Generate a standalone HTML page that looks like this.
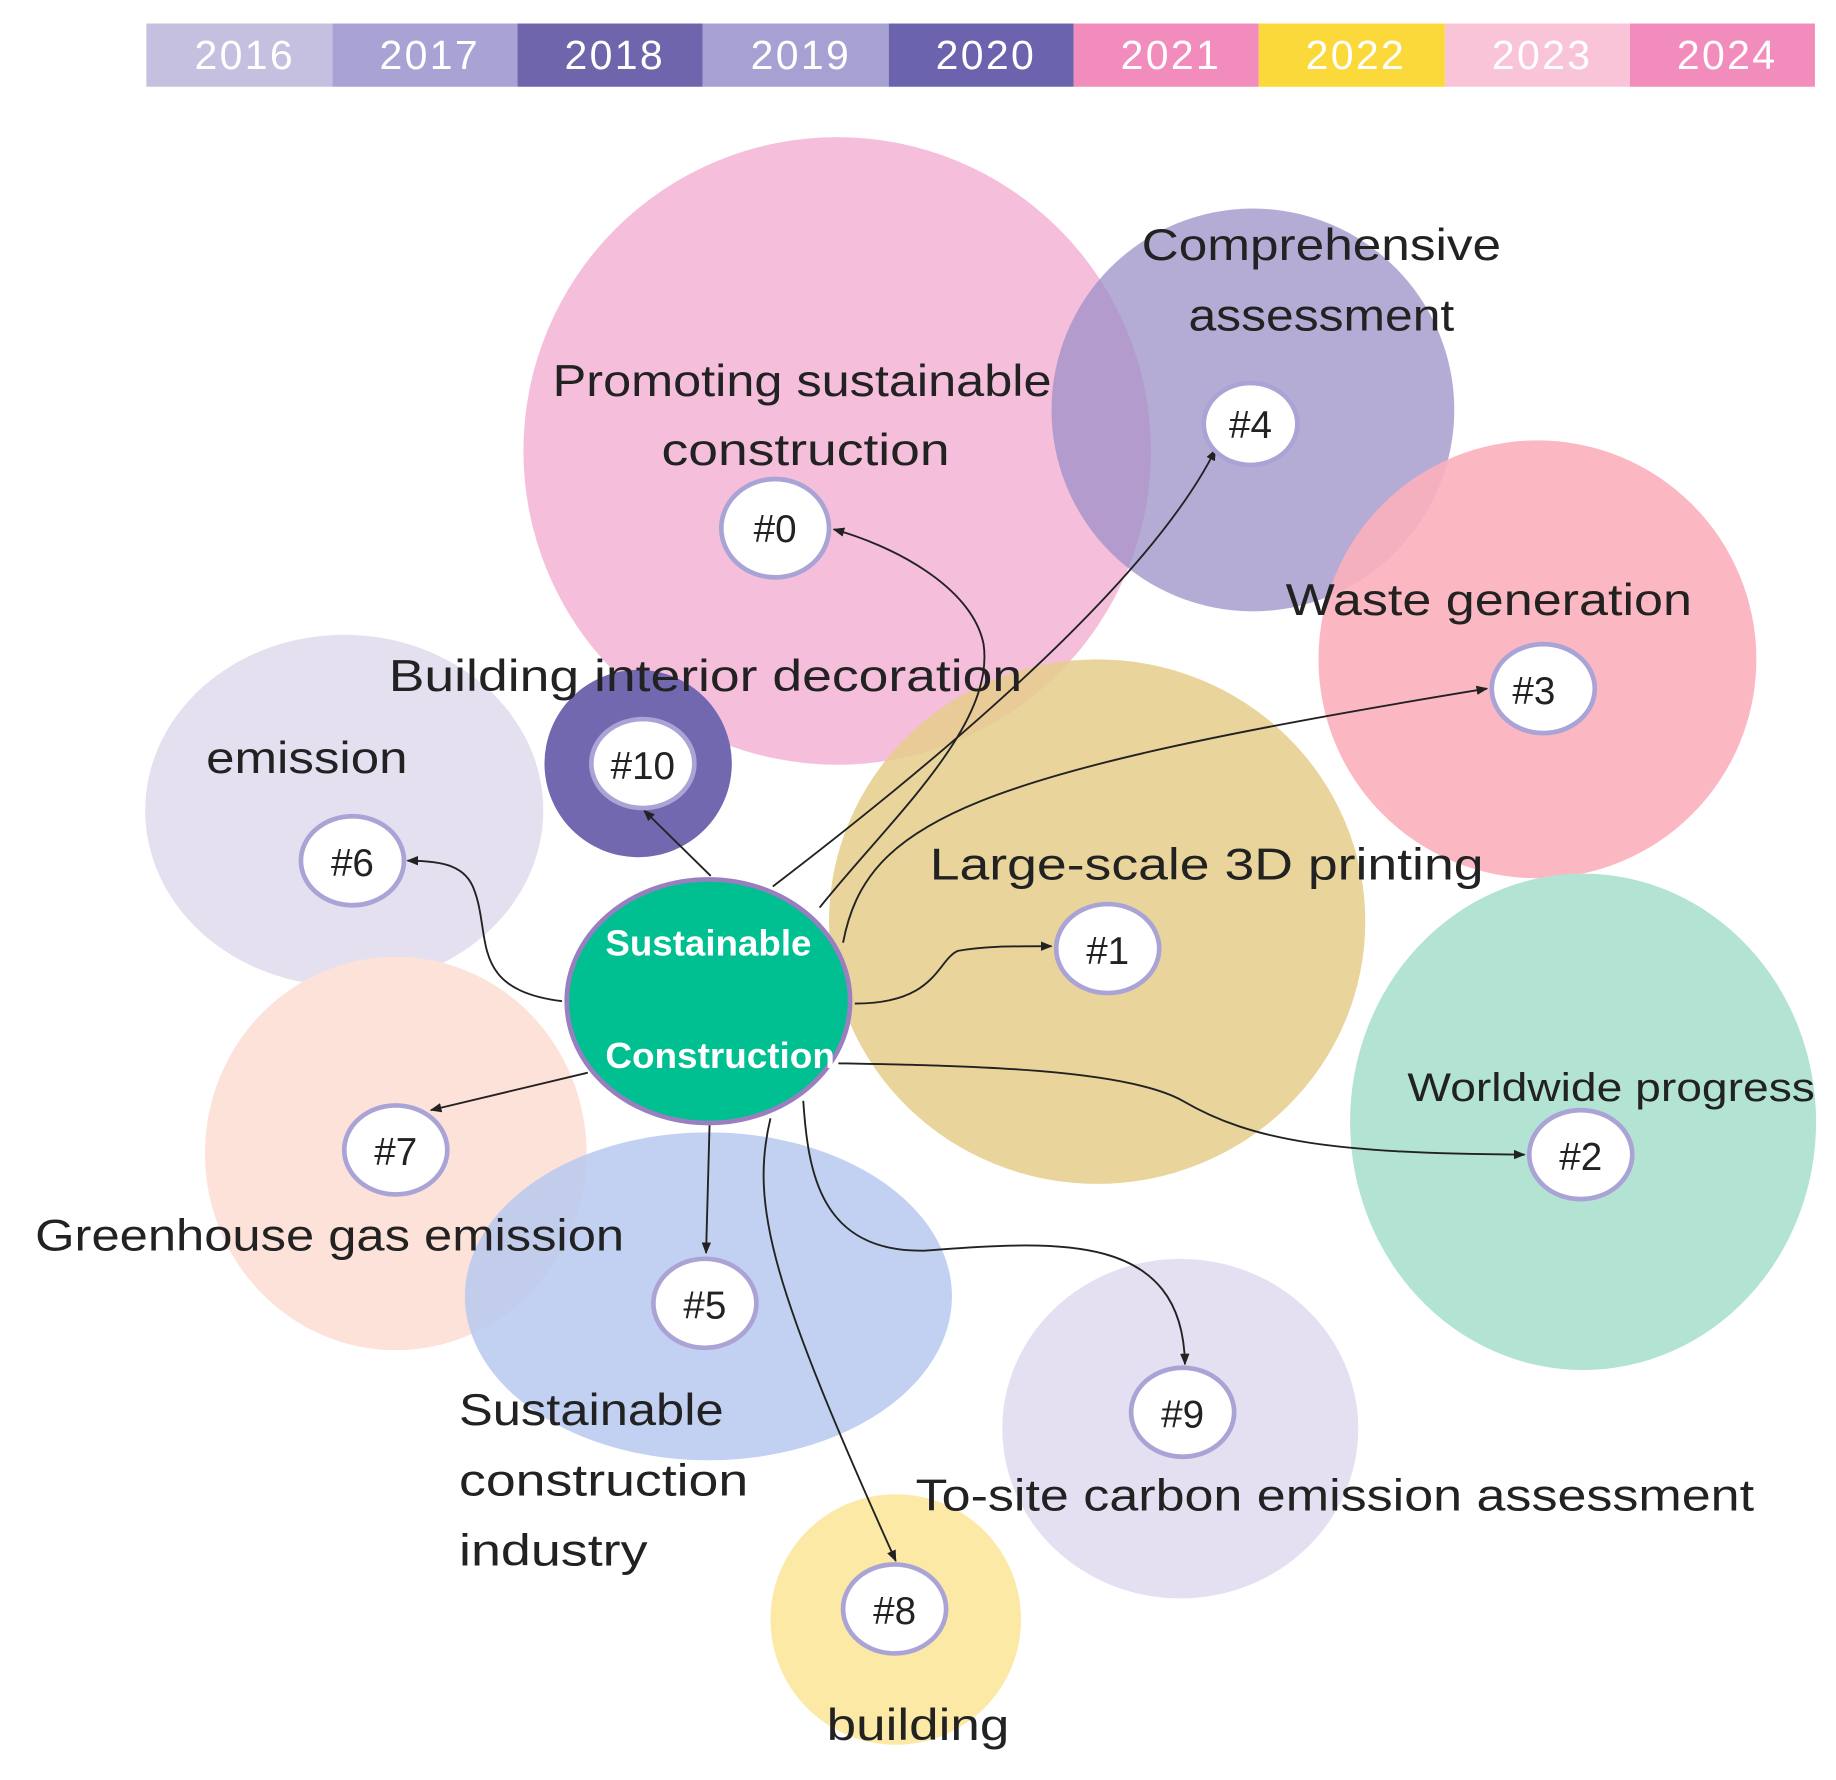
<!DOCTYPE html>
<html><head><meta charset="utf-8"><style>
html,body{margin:0;padding:0;background:#fff;}
svg{display:block;}
text{font-family:"Liberation Sans","DejaVu Sans",sans-serif;}
</style></head><body>
<svg width="1836" height="1780" viewBox="0 0 1568 1520" xmlns="http://www.w3.org/2000/svg">
<defs>
<marker id="a" markerWidth="10" markerHeight="8" refX="9" refY="4" orient="auto" markerUnits="userSpaceOnUse"><path d="M0,0 L10,4 L0,8 z" fill="#222"/></marker>
</defs>
<rect width="1568" height="1520" fill="#fff"/>
<g font-size="35" fill="#fff" text-anchor="middle" letter-spacing="2">
<rect x="125" y="20" width="159" height="54" fill="#c5c0e0"/><text x="209" y="59">2016</text>
<rect x="284" y="20" width="158" height="54" fill="#a9a2d4"/><text x="367" y="59">2017</text>
<rect x="442" y="20" width="158" height="54" fill="#6e65ad"/><text x="525" y="59">2018</text>
<rect x="600" y="20" width="159" height="54" fill="#a7a0d2"/><text x="684" y="59">2019</text>
<rect x="759" y="20" width="158" height="54" fill="#6b63ad"/><text x="842" y="59">2020</text>
<rect x="917" y="20" width="158" height="54" fill="#f28cbc"/><text x="1000" y="59">2021</text>
<rect x="1075" y="20" width="159" height="54" fill="#fcd93a"/><text x="1158" y="59">2022</text>
<rect x="1234" y="20" width="158" height="54" fill="#f9c4d8"/><text x="1317" y="59">2023</text>
<rect x="1392" y="20" width="158" height="54" fill="#f28cbc"/><text x="1475" y="59">2024</text>
</g>
<circle cx="715" cy="385" r="268" fill="#f5bfdc"/>
<ellipse cx="294" cy="692" rx="170" ry="150" fill="#e4e0f0"/>
<ellipse cx="338" cy="985" rx="163" ry="168" fill="#fde2da"/>
<ellipse cx="937" cy="787" rx="229" ry="224" fill="#e5cc8a" opacity="0.85"/>
<circle cx="1070" cy="350" r="172" fill="#9c90c8" opacity="0.75"/>
<circle cx="1313" cy="563" r="187" fill="#fbb0bd" opacity="0.9"/>
<ellipse cx="1352" cy="958" rx="199" ry="212" fill="#b3e4d3"/>
<ellipse cx="605" cy="1107" rx="208" ry="140" fill="#b7c9ee" opacity="0.85"/>
<ellipse cx="1008" cy="1220" rx="152" ry="145" fill="#e4e0f2"/>
<circle cx="765" cy="1383" r="107" fill="#fde9a6"/>
<circle cx="545" cy="652" r="80" fill="#7168b0"/>
<g fill="none" stroke="#222" stroke-width="1.6" marker-end="url(#a)">
<path d="M700,775 C760,700 850,620 840,550 C830,500 760,465 712,452"/>
<path d="M660,757 C800,650 980,500 1038,384"/>
<path d="M720,805 C740,700 830,660 1270,588"/>
<path d="M730,857 C800,857 800,820 818,812 C840,808 860,808 898,808"/>
<path d="M716,908 C820,910 960,912 1010,940 C1070,975 1140,985 1302,986"/>
<path d="M480,855 C400,845 420,800 405,760 C398,740 380,735 348,735"/>
<path d="M607,748 L550,692"/>
<path d="M502,916 L368,948"/>
<path d="M606,960 L603,1070"/>
<path d="M686,940 C690,1000 700,1070 790,1068 C900,1060 1010,1050 1012,1165"/>
<path d="M658,955 C640,1030 660,1100 765,1333"/>
</g>
<ellipse cx="605" cy="855" rx="121" ry="104" fill="#00bf90" stroke="#9a7fc0" stroke-width="4"/>
<text x="517" y="816" font-size="31" font-weight="bold" fill="#fff" textLength="176" lengthAdjust="spacingAndGlyphs">Sustainable</text>
<text x="517" y="912" font-size="31" font-weight="bold" fill="#fff" textLength="196" lengthAdjust="spacingAndGlyphs">Construction</text>
<g fill="#fff" stroke="#aaa3d6" stroke-width="4">
<ellipse cx="662" cy="451" rx="46" ry="42"/>
<ellipse cx="1068" cy="362" rx="40" ry="35"/>
<ellipse cx="1318" cy="588" rx="44" ry="38"/>
<ellipse cx="946" cy="810" rx="44" ry="38"/>
<ellipse cx="1350" cy="986" rx="44" ry="38"/>
<ellipse cx="301" cy="735" rx="44" ry="38"/>
<ellipse cx="549" cy="652" rx="44" ry="38"/>
<ellipse cx="338" cy="982" rx="44" ry="38"/>
<ellipse cx="602" cy="1113" rx="44" ry="38"/>
<ellipse cx="1010" cy="1206" rx="44" ry="38"/>
<ellipse cx="764" cy="1374" rx="44" ry="38"/>
</g>
<g font-size="33" fill="#222" text-anchor="middle">
<text x="662" y="463">#0</text>
<text x="1068" y="374">#4</text>
<text x="1310" y="601">#3</text>
<text x="946" y="823">#1</text>
<text x="1350" y="999">#2</text>
<text x="301" y="748">#6</text>
<text x="549" y="665">#10</text>
<text x="338" y="995">#7</text>
<text x="602" y="1126">#5</text>
<text x="1010" y="1219">#9</text>
<text x="764" y="1387">#8</text>
</g>
<g font-size="38" fill="#222" lengthAdjust="spacingAndGlyphs">
<text x="472" y="338" textLength="426" lengthAdjust="spacingAndGlyphs">Promoting sustainable</text>
<text x="565" y="397" textLength="246" lengthAdjust="spacingAndGlyphs">construction</text>
<text x="975" y="222" textLength="307" lengthAdjust="spacingAndGlyphs">Comprehensive</text>
<text x="1015" y="282" textLength="227" lengthAdjust="spacingAndGlyphs">assessment</text>
<text x="1098" y="525" textLength="347" lengthAdjust="spacingAndGlyphs">Waste generation</text>
<text x="332" y="590" textLength="541" lengthAdjust="spacingAndGlyphs">Building interior decoration</text>
<text x="176" y="660" textLength="172" lengthAdjust="spacingAndGlyphs">emission</text>
<text x="794" y="751" textLength="473" lengthAdjust="spacingAndGlyphs">Large-scale   3D printing</text>
<text x="1202" y="940" font-size="34" textLength="348" lengthAdjust="spacingAndGlyphs">Worldwide progress</text>
<text x="30" y="1068" textLength="503" lengthAdjust="spacingAndGlyphs">Greenhouse gas emission</text>
<text x="392" y="1217" textLength="226" lengthAdjust="spacingAndGlyphs">Sustainable</text>
<text x="392" y="1277" textLength="247" lengthAdjust="spacingAndGlyphs">construction</text>
<text x="392" y="1337" textLength="161" lengthAdjust="spacingAndGlyphs">industry</text>
<text x="782" y="1290" textLength="716" lengthAdjust="spacingAndGlyphs">To-site  carbon emission assessment</text>
<text x="706" y="1486" textLength="156" lengthAdjust="spacingAndGlyphs">building</text>
</g>
</svg>
</body></html>
